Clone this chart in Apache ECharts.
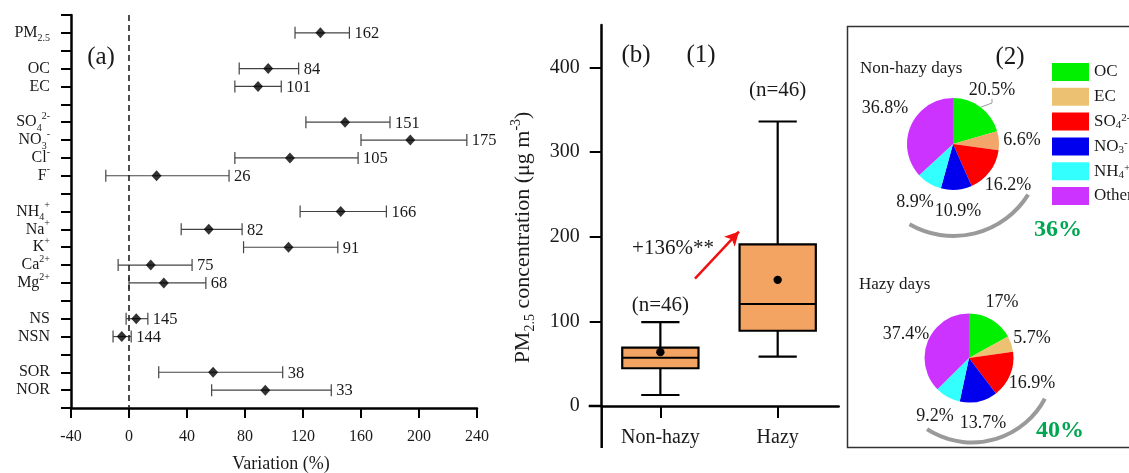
<!DOCTYPE html>
<html><head><meta charset="utf-8">
<script src="https://cdn.jsdelivr.net/npm/echarts@6/dist/echarts.min.js"></script>
<style>html,body{margin:0;padding:0;background:#fff}#c{width:1129px;height:473px}</style>
</head><body><div id="c"></div>
<script>
// ---------- Panel (a): variation between hazy and non-hazy days ----------
const rows = ['', 'PM2.5', '', 'OC', 'EC', '', 'SO4', 'NO3', 'Cl', 'F', '', 'NH4', 'Na', 'K', 'Ca', 'Mg', '', 'NS', 'NSN', '', 'SOR', 'NOR', ''];
const species = ['PM2.5', 'OC', 'EC', 'SO4', 'NO3', 'Cl', 'F', 'NH4', 'Na', 'K', 'Ca', 'Mg', 'NS', 'NSN', 'SOR', 'NOR'];
const meanVar = [132, 96, 89, 149, 194, 111, 19, 146, 55, 110, 15, 24, 5, -5, 58, 94];
const lowVar  = [114.5, 76, 73, 122, 160, 73, -16, 118, 36, 79, -7.5, 0, -2, -11, 20.5, 57];
const highVar = [152, 117, 105, 180, 233, 158, 69, 177.5, 78, 144, 43.5, 53, 13, 1.5, 106, 139.5];
const nCount  = [162, 84, 101, 151, 175, 105, 26, 166, 82, 91, 75, 68, 145, 144, 38, 33];
const xTicksA = [-40, 0, 40, 80, 120, 160, 200, 240];

// ---------- Panel (b)(1): PM2.5 box plots ----------
const groups = ['Non-hazy', 'Hazy'];
const boxMin    = [13, 58.4];
const boxQ1     = [44.6, 88.9];
const boxMedian = [57, 120.5];
const boxQ3     = [69, 190.8];
const boxMax    = [99, 336];
const boxMean   = [63.6, 149];
const nLabels   = ['(n=46)', '(n=46)'];
const yTicksB   = [0, 100, 200, 300, 400];

// ---------- Panel (b)(2): composition pies ----------
const components = ['OC', 'EC', 'SO4', 'NO3', 'NH4', 'Other'];
const nonHazyShares = [20.5, 6.6, 16.2, 10.9, 8.9, 36.8];
const hazyShares    = [17, 5.7, 16.9, 13.7, 9.2, 37.4];

const FONT = "'Liberation Serif', 'DejaVu Serif', serif";
const TXT = '#1a1a1a';
const richMap = {
  'PM2.5': '{n|PM}{sub|2.5}', 'OC': '{n|OC}', 'EC': '{n|EC}',
  'SO4': '{n|SO}{sub|4}{sup|2-}', 'NO3': '{n|NO}{sub|3}{sup|-}', 'Cl': '{n|Cl}{sup|-}',
  'F': '{n|F}{sup|-}', 'NH4': '{n|NH}{sub|4}{sup|+}', 'Na': '{n|Na}{sup|+}', 'K': '{n|K}{sup|+}',
  'Ca': '{n|Ca}{sup|2+}', 'Mg': '{n|Mg}{sup|2+}', 'NS': '{n|NS}', 'NSN': '{n|NSN}',
  'SOR': '{n|SOR}', 'NOR': '{n|NOR}', 'Other': '{n|Other}'
};
function richStyles(fs, lh) {
  return {
    n:   { fontSize: fs, fontFamily: FONT, color: TXT, lineHeight: lh, verticalAlign: 'middle' },
    sub: { fontSize: Math.round(fs * 0.65), fontFamily: FONT, color: TXT, lineHeight: lh, verticalAlign: 'bottom' },
    sup: { fontSize: Math.round(fs * 0.65), fontFamily: FONT, color: TXT, lineHeight: lh, verticalAlign: 'top' }
  };
}

const rowOf = species.map(s => rows.indexOf(s));
const errData = species.map((s, i) => [lowVar[i], highVar[i], rowOf[i], nCount[i]]);
const meanData = species.map((s, i) => [meanVar[i], rowOf[i]]);
const boxData = groups.map((g, i) => [i + 0.5, boxMin[i], boxQ1[i], boxMedian[i], boxQ3[i], boxMax[i], boxMean[i]]);

const pieCenters = [[953, 144], [969, 358]];
const pieRadius = [46, 44.5];
const nonHazyLabelOff = [[39, -54], [69, -4], [55, 41], [5, 67], [-38, 58], [-68, -36]];
const hazyLabelOff = [[33, -56], [63, -20], [63, 25], [14, 65], [-34, 58], [-63, -24]];
const colorsNon = ['#00F000', '#F2A66A', '#FF0000', '#0000EE', '#33FFFF', '#CC33FF'];
const colorsHazy = ['#00F000', '#ECC272', '#FF0000', '#0000EE', '#33FFFF', '#CC33FF'];
const legendColors = ['#00F000', '#ECC272', '#FF0000', '#0000EE', '#33FFFF', '#CC33FF'];

function pieSeries(shares, colors, ci, offs) {
  return {
    type: 'pie', center: pieCenters[ci], radius: pieRadius[ci], startAngle: 90, clockwise: true,
    avoidLabelOverlap: false, silent: true,
    itemStyle: { borderWidth: 0 },
    label: { show: true, position: 'outside', formatter: p => p.value + '%', fontSize: 18, fontFamily: FONT, color: TXT },
    labelLine: { show: false },
    labelLayout: p => {
      const o = offs[p.dataIndex];
      return { x: pieCenters[ci][0] + o[0], y: pieCenters[ci][1] + o[1], align: 'center', verticalAlign: 'middle' };
    },
    data: components.map((c, i) => ({
      name: c, value: shares[i], itemStyle: { color: colors[i] },
      labelLine: (ci === 0 && i === 0) ? { show: true, length: 4, length2: 4, lineStyle: { color: '#999', width: 1 } } : { show: false }
    }))
  };
}

const chart = echarts.init(document.getElementById('c'));
const axisBlack = { color: '#000', width: 2.5 };

chart.setOption({
  animation: false,
  backgroundColor: '#fff',
  textStyle: { fontFamily: FONT },
  grid: [
    { left: 71, top: 15, width: 406, height: 393, outerBoundsMode: 'none', containLabel: false },
    { left: 601.7, top: 25, width: 237, height: 381, outerBoundsMode: 'none', containLabel: false }
  ],
  xAxis: [
    {
      type: 'value', gridIndex: 0, min: xTicksA[0], max: xTicksA[xTicksA.length - 1], interval: 40,
      axisLine: { onZero: false, lineStyle: axisBlack },
      axisTick: { show: true, length: 10, lineStyle: { color: '#000', width: 2 } },
      axisLabel: { fontSize: 16, color: TXT, fontFamily: FONT, margin: 21 },
      splitLine: { show: false },
      name: 'Variation (%)', nameLocation: 'middle', nameGap: 47,
      nameTextStyle: { fontSize: 18, color: TXT, fontFamily: FONT, padding: [0, 0, 0, 14] }
    },
    {
      type: 'value', gridIndex: 1, min: 0, max: 2.02,
      axisLine: { onZero: false, lineStyle: axisBlack },
      axisTick: { show: true, length: 12, customValues: groups.map((g, i) => i + 0.5), lineStyle: { color: '#000', width: 2 } },
      axisLabel: { fontSize: 20, color: TXT, fontFamily: FONT, margin: 22, customValues: groups.map((g, i) => i + 0.5),
        formatter: v => groups[Math.round(v - 0.5)] || '' },
      splitLine: { show: false }
    }
  ],
  yAxis: [
    {
      type: 'value', gridIndex: 0, min: 0, max: rows.length - 1, interval: 1, inverse: true,
      axisLine: { onZero: false, lineStyle: axisBlack },
      axisTick: { show: true, length: 10, lineStyle: { color: '#000', width: 2 } },
      axisLabel: { margin: 21, formatter: v => { const r = rows[Math.round(v)]; return r ? richMap[r] : ''; },
        rich: richStyles(16, 22) },
      splitLine: { show: false }
    },
    {
      type: 'value', gridIndex: 1, min: 0, max: 450,
      axisLine: { onZero: false, lineStyle: axisBlack },
      axisTick: { show: true, length: 12, customValues: yTicksB, lineStyle: { color: '#000', width: 2 } },
      axisLabel: { fontSize: 20, color: TXT, fontFamily: FONT, margin: 22, customValues: yTicksB },
      splitLine: { show: false },
      name: '{n|PM}{sub|2.5}{n| concentration (μg m}{sup|-3}{n|)}',
      nameLocation: 'middle', nameRotate: 90, nameGap: 64,
      nameTextStyle: { rich: richStyles(22, 28), padding: [0, 44, 0, 0] }
    }
  ],
  legend: {
    orient: 'vertical', left: 1047, top: 58, itemWidth: 37, itemHeight: 18, itemGap: 6.8,
    icon: 'rect', selectedMode: false,
    data: components.map((c, i) => ({ name: c, itemStyle: { color: legendColors[i] } })),
    formatter: name => richMap[name],
    textStyle: { rich: richStyles(17, 18) }
  },
  graphic: [
    { type: 'text', x: 101, y: 57, style: { text: '(a)', fontSize: 25, fontFamily: FONT, fill: TXT, align: 'center', verticalAlign: 'middle' } },
    { type: 'text', x: 636, y: 55, style: { text: '(b)', fontSize: 25, fontFamily: FONT, fill: TXT, align: 'center', verticalAlign: 'middle' } },
    { type: 'text', x: 701, y: 55, style: { text: '(1)', fontSize: 25, fontFamily: FONT, fill: TXT, align: 'center', verticalAlign: 'middle' } },
    { type: 'text', x: 673, y: 248, style: { text: '+136%**', fontSize: 21, fontFamily: FONT, fill: TXT, align: 'center', verticalAlign: 'middle' } },
    { type: 'rect', shape: { x: 847.5, y: 26.5, width: 290, height: 421 }, style: { fill: null, stroke: '#333', lineWidth: 1.5 } },
    { type: 'text', x: 1010, y: 57, style: { text: '(2)', fontSize: 25, fontFamily: FONT, fill: TXT, align: 'center', verticalAlign: 'middle' } },
    { type: 'text', x: 860, y: 69, style: { text: 'Non-hazy days', fontSize: 17, fontFamily: FONT, fill: TXT, align: 'left', verticalAlign: 'middle' } },
    { type: 'text', x: 859, y: 285, style: { text: 'Hazy days', fontSize: 17, fontFamily: FONT, fill: TXT, align: 'left', verticalAlign: 'middle' } },
    { type: 'arc', shape: { cx: pieCenters[0][0] + 0.5, cy: pieCenters[0][1] + 4, r: 88, startAngle: 32 * Math.PI / 180, endAngle: 120 * Math.PI / 180, clockwise: true },
      style: { stroke: '#9a9a9a', lineWidth: 4, fill: null } },
    { type: 'arc', shape: { cx: pieCenters[1][0] + 3, cy: pieCenters[1][1] + 2, r: 82.5, startAngle: 28 * Math.PI / 180, endAngle: 123 * Math.PI / 180, clockwise: true },
      style: { stroke: '#9a9a9a', lineWidth: 4, fill: null } },
    { type: 'text', x: 1058, y: 230, style: { text: '36%', fontSize: 24, fontWeight: 'bold', fontFamily: FONT, fill: '#00A651', align: 'center', verticalAlign: 'middle' } },
    { type: 'text', x: 1060, y: 431, style: { text: '40%', fontSize: 24, fontWeight: 'bold', fontFamily: FONT, fill: '#00A651', align: 'center', verticalAlign: 'middle' } }
  ],
  series: [
    {
      type: 'custom', xAxisIndex: 0, yAxisIndex: 0, data: errData, encode: { x: [0, 1], y: 2 },
      renderItem: (params, api) => {
        const a = api.coord([api.value(0), api.value(2)]);
        const b = api.coord([api.value(1), api.value(2)]);
        const ls = { stroke: '#444', lineWidth: 1.2 };
        return { type: 'group', children: [
          { type: 'line', shape: { x1: a[0], y1: a[1], x2: b[0], y2: b[1] }, style: ls },
          { type: 'line', shape: { x1: a[0], y1: a[1] - 6, x2: a[0], y2: a[1] + 6 }, style: ls },
          { type: 'line', shape: { x1: b[0], y1: b[1] - 6, x2: b[0], y2: b[1] + 6 }, style: ls },
          { type: 'text', x: b[0] + 5, y: b[1] + 1, style: { text: String(api.value(3)), fontSize: 16.5, fontFamily: FONT, fill: TXT, align: 'left', verticalAlign: 'middle' } }
        ] };
      },
      z: 2
    },
    {
      type: 'scatter', xAxisIndex: 0, yAxisIndex: 0, data: meanData, symbol: 'diamond', symbolSize: [10, 11],
      itemStyle: { color: '#000' }, z: 3,
      markLine: { silent: true, symbol: 'none', label: { show: false },
        lineStyle: { color: '#222', width: 1.6, type: [6, 4] }, data: [{ xAxis: 0 }] }
    },
    {
      type: 'custom', xAxisIndex: 1, yAxisIndex: 1, data: boxData, encode: { x: 0, y: [1, 5] },
      renderItem: (params, api) => {
        const i = params.dataIndex;
        const x = api.value(0);
        const pLo = api.coord([x, api.value(1)]);
        const pQ1 = api.coord([x, api.value(2)]);
        const pMed = api.coord([x, api.value(3)]);
        const pQ3 = api.coord([x, api.value(4)]);
        const pHi = api.coord([x, api.value(5)]);
        const pMean = api.coord([x, api.value(6)]);
        const hw = api.size([0.325, 0])[0];
        const cw = api.size([0.163, 0])[0];
        const ls = { stroke: '#000', lineWidth: 2.2 };
        const labelOff = [17, 31][i];
        return { type: 'group', children: [
          { type: 'line', shape: { x1: pLo[0], y1: pLo[1], x2: pQ1[0], y2: pQ1[1] }, style: ls },
          { type: 'line', shape: { x1: pQ3[0], y1: pQ3[1], x2: pHi[0], y2: pHi[1] }, style: ls },
          { type: 'line', shape: { x1: pLo[0] - cw, y1: pLo[1], x2: pLo[0] + cw, y2: pLo[1] }, style: ls },
          { type: 'line', shape: { x1: pHi[0] - cw, y1: pHi[1], x2: pHi[0] + cw, y2: pHi[1] }, style: ls },
          { type: 'rect', shape: { x: pQ3[0] - hw, y: pQ3[1], width: 2 * hw, height: pQ1[1] - pQ3[1] },
            style: { fill: '#F4A462', stroke: '#000', lineWidth: 2.2 } },
          { type: 'line', shape: { x1: pMed[0] - hw, y1: pMed[1], x2: pMed[0] + hw, y2: pMed[1] }, style: ls },
          { type: 'circle', shape: { cx: pMean[0], cy: pMean[1], r: 4.2 }, style: { fill: '#000' } },
          { type: 'text', x: pHi[0], y: pHi[1] - labelOff, style: { text: nLabels[i], fontSize: 21, fontFamily: FONT, fill: TXT, align: 'center', verticalAlign: 'middle' } }
        ] };
      },
      markLine: {
        silent: true, symbol: ['none', 'arrow'], symbolSize: [11, 14], label: { show: false },
        lineStyle: { color: '#F01010', width: 2.5, type: 'solid' },
        data: [[{ coord: [0.795, 150.5] }, { coord: [1.17, 206] }]]
      }
    },
    pieSeries(nonHazyShares, colorsNon, 0, nonHazyLabelOff),
    pieSeries(hazyShares, colorsHazy, 1, hazyLabelOff)
  ]
});

// Axis line extensions of panel (b): the y axis continues below the x axis and the x axis starts left of the y axis
const origin = chart.convertToPixel({ gridIndex: 1 }, [0, 0]);
chart.setOption({
  graphic: [
    { id: 'yExt', type: 'line', shape: { x1: origin[0], y1: origin[1], x2: origin[0], y2: origin[1] + 42 }, style: { stroke: '#000', lineWidth: 2.5 } },
    { id: 'xExt', type: 'line', shape: { x1: origin[0] - 13, y1: origin[1], x2: origin[0], y2: origin[1] }, style: { stroke: '#000', lineWidth: 2.5 } }
  ]
});
</script></body></html>
